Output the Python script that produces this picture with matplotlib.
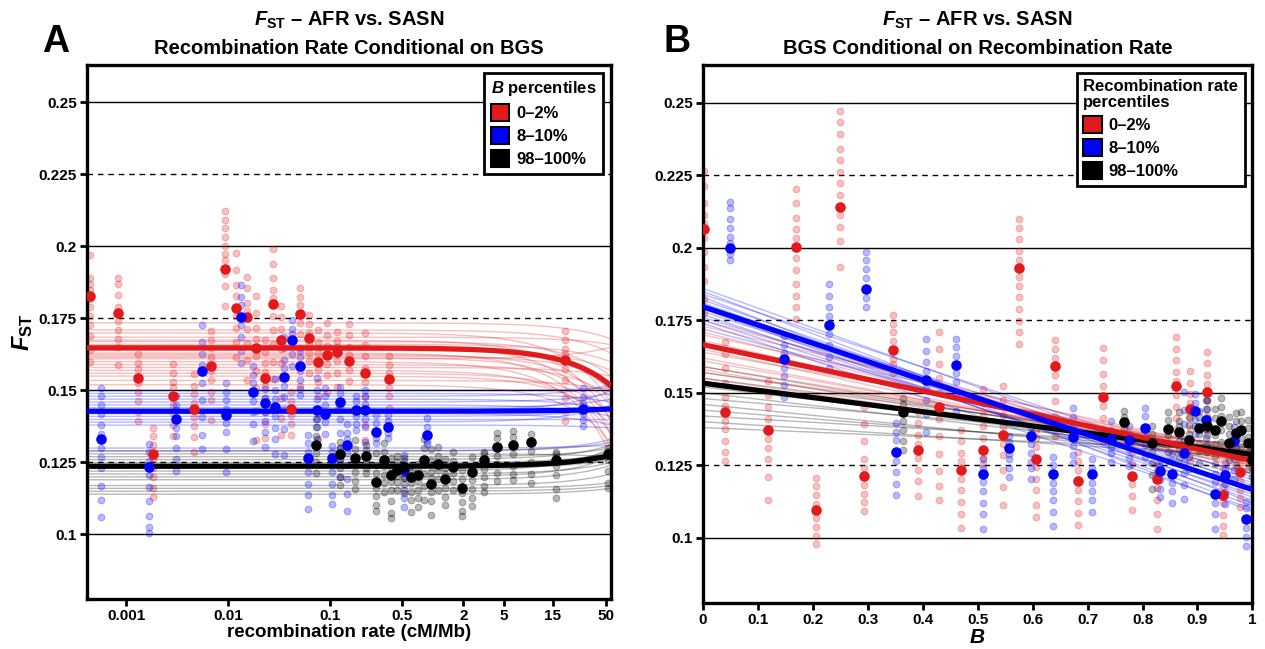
import numpy as np
import matplotlib
matplotlib.use('Agg')
import matplotlib.pyplot as plt
from matplotlib.patches import Patch

plt.rcParams['font.family'] = ['Liberation Sans', 'DejaVu Sans']
plt.rcParams['font.weight'] = 'bold'
plt.rcParams['axes.labelweight'] = 'bold'
plt.rcParams['mathtext.fontset'] = 'custom'
plt.rcParams['mathtext.rm'] = 'Liberation Sans:bold'
plt.rcParams['mathtext.it'] = 'Liberation Sans:bold:italic'
plt.rcParams['mathtext.bf'] = 'Liberation Sans:bold'

RED = '#E31A1C'
BLUE = '#0000FF'
BLACK = '#000000'

# ---------------- panel A: F_ST vs recombination rate, conditional on B ----------------
red_A_rate = [0.000446, 0.00083, 0.0013, 0.00185, 0.00289, 0.00461, 0.0068, 0.00937, 0.0120,
              0.0152, 0.0189, 0.0228, 0.0272, 0.0331, 0.0408, 0.0500, 0.0617, 0.0762, 0.0925,
              0.115, 0.153, 0.219, 0.378, 19.6]
red_A_fst = [0.1829, 0.1770, 0.1545, 0.1281, 0.1481, 0.1437, 0.1586, 0.1923, 0.1787, 0.1755,
             0.1648, 0.1545, 0.1800, 0.1675, 0.1434, 0.1766, 0.1681, 0.1600, 0.1623, 0.1632,
             0.1602, 0.1559, 0.1540, 0.1605]
# replicate spread around each mean, in units of 0.001
red_A_reps = [[14, 6, 4, 2, -1, -4, -7, -10, -14, -19, -23],
              [12, 10, 6, 2, -3, -6, -9, -12, -18],
              [8, 5, 3, -2, -5, -8, -12, -15],
              [9, 6, 3, -2, -5, -8, -12, -15],
              [11, 8, 5, 3, -3, -6, -10, -14],
              [12, 8, 5, 2, -3, -6, -10, -15],
              [12, 9, 6, 3, -2, -5, -9, -12, -19],
              [20, 17, 14, 11, 8, 5, 3, -2, -6, -13],
              [19, 13, 8, 4, -3, -7, -12, -17],
              [14, 10, 5, 2, -4, -9, -15, -22],
              [18, 12, 7, 3, -3, -8, -14, -22, -32],
              [13, 9, 5, 2, -3, -7, -12, -16, -21],
              [19, 14, 9, 5, 2, -4, -9, -14, -20, -26],
              [12, 8, 4, -3, -8, -13, -20, -27, -33],
              [6, 3, -2, -5, -9],
              [9, 6, 3, -3, -7, -12, -18, -25],
              [8, 5, 2, -2, -5, -8, -12],
              [11, 7, 3, -3, -7, -12, -18, -27],
              [11, 7, 3, -3, -7, -13],
              [7, 4, 2, -3, -7, -12, -20],
              [13, 9, 5, 2, -3, -7],
              [14, 10, 6, 2, -3, -8, -13, -18, -23],
              [8, 5, 2, -3, -6, -10, -16],
              [10, 7, 4, 2, -3, -7, -13, -18, -21]]

blue_A_rate = [0.000564, 0.00168, 0.00308, 0.00556, 0.00952, 0.0133, 0.0176, 0.0230, 0.0288,
               0.0355, 0.0425, 0.0508, 0.0603, 0.0733, 0.0877, 0.104, 0.123, 0.145, 0.177,
               0.219, 0.279, 0.367, 0.521, 0.891, 29.4]
blue_A_fst = [0.1330, 0.1235, 0.1401, 0.1567, 0.1416, 0.1756, 0.1495, 0.1455, 0.1441, 0.1547,
              0.1675, 0.1586, 0.1267, 0.1432, 0.1420, 0.1266, 0.1461, 0.1312, 0.1432, 0.1432,
              0.1356, 0.1374, 0.1225, 0.1344, 0.1437]
blue_A_reps = [[18, 15, 12, 9, 5, 2, -3, -6, -10, -16, -21, -27],
               [8, 5, 2, -3, -7, -12, -17, -21, -23],
               [8, 5, 3, -3, -6, -10, -14, -18],
               [16, 10, 6, 2, -4, -10, -16, -22, -27],
               [11, 8, 5, 2, -3, -6, -12, -20],
               [11, 7, 4, -3, -7, -12, -16],
               [9, 6, 3, -3, -7, -11, -17],
               [8, 5, 2, -3, -6, -10, -15],
               [10, 6, 3, -3, -7, -11, -16],
               [14, 10, 6, 3, -3, -7, -11, -18, -27],
               [7, 4, 2, -2, -5, -9],
               [5, 3, -2, -5, -8, -10],
               [8, 5, 2, -2, -5, -9, -13, -18],
               [11, 7, 4, -3, -6, -10],
               [9, 6, 3, -3, -7],
               [4, 2, -2, -5, -9, -13, -16],
               [5, 3, -2, -6, -11, -16, -21, -26],
               [7, 4, 2, -3, -7, -12, -17, -23],
               [5, 3, -2, -5, -7],
               [7, 5, 2, -3, -6, -11],
               [6, 3, -2, -4],
               [4, 2, -2, -4],
               [5, 3, -3, -7, -10, -13],
               [6, 3, -2, -3],
               [7, 4, 2, -2, -4, -6]]

black_A_rate = [0.0715, 0.123, 0.175, 0.223, 0.277, 0.334, 0.391, 0.450, 0.525, 0.614, 0.718,
                0.832, 0.964, 1.14, 1.33, 1.59, 1.93, 2.44, 3.20, 4.30, 6.06, 9.23, 16.2, 52.0]
black_A_fst = [0.1312, 0.1281, 0.1267, 0.1272, 0.1182, 0.1258, 0.1206, 0.1223, 0.1235, 0.1198,
               0.1206, 0.1260, 0.1177, 0.1243, 0.1191, 0.1235, 0.1163, 0.1218, 0.1258, 0.1304,
               0.1309, 0.1320, 0.1258, 0.1280]
black_A_reps = [[9, 6, 3, -3, -6, -10],
                [4, 2, -2, -5, -8, -11],
                [6, 3, -2, -5, -8, -11],
                [4, 2, -2, -4, -6],
                [10, 6, 3, -2, -5, -8, -10],
                [6, 3, -2, -5, -8, -11],
                [6, 3, -2, -5, -9, -13, -15],
                [5, 3, -2, -4, -7],
                [3, -2, -4, -6, -9],
                [4, 2, -2, -5, -8, -12],
                [4, 2, -2, -5, -8, -11],
                [7, 4, -2, -5, -9, -14],
                [12, 8, 4, 2, -3, -6, -11],
                [6, 3, -2, -5, -9],
                [7, 4, 2, -3, -6, -9],
                [5, 2, -2, -5, -8],
                [6, 3, -2, -5, -8, -10],
                [5, 2, -3, -6, -9, -12],
                [3, 2, -3, -6, -9, -11],
                [5, 3, -3, -6, -9, -12],
                [5, 3, -3, -7, -10, -12],
                [3, -3, -7, -11, -14],
                [3, 2, -2, -5, -10, -13],
                [2, -2, -6, -10, -12]]

# linear fits F = a + b * rate (value at rate 0 and at rate 55)
fit_A_main = {'red': (0.1648, 0.1517), 'blue': (0.1428, 0.1436), 'black': (0.1237, 0.1275)}
red_A_fit_int = [0.1735, 0.171, 0.170, 0.1685, 0.1675, 0.167, 0.166, 0.1655, 0.165, 0.164, 0.163,
                 0.1625, 0.162, 0.1615, 0.161, 0.160, 0.159, 0.158, 0.157, 0.156, 0.155, 0.1535, 0.152]
red_A_fit_end = [0.168, 0.163, 0.146, 0.166, 0.140, 0.155, 0.160, 0.135, 0.150, 0.157, 0.130,
                 0.145, 0.153, 0.140, 0.165, 0.128, 0.148, 0.155, 0.135, 0.142, 0.138, 0.150, 0.132]
blue_A_fit_int = [0.150, 0.149, 0.148, 0.147, 0.146, 0.145, 0.144, 0.143, 0.142, 0.141, 0.140,
                  0.139, 0.138, 0.130, 0.129]
blue_A_fit_end = [0.151, 0.146, 0.152, 0.143, 0.149, 0.141, 0.147, 0.150, 0.138, 0.144, 0.140,
                  0.145, 0.137, 0.131, 0.133]
black_A_fit_int = [0.129, 0.128, 0.127, 0.126, 0.125, 0.124, 0.123, 0.122, 0.121, 0.120, 0.119,
                   0.117, 0.116, 0.115, 0.114]
black_A_fit_end = [0.132, 0.127, 0.130, 0.131, 0.128, 0.129, 0.126, 0.130, 0.125, 0.127, 0.124,
                   0.121, 0.118, 0.117, 0.116]

# ---------------- panel B: F_ST vs B, conditional on recombination rate ----------------
red_B_x = [0.003, 0.041, 0.118, 0.170, 0.206, 0.250, 0.294, 0.346, 0.392, 0.430, 0.469, 0.510,
           0.547, 0.576, 0.606, 0.641, 0.682, 0.728, 0.780, 0.826, 0.860, 0.887, 0.917, 0.946, 0.978]
red_B_fst = [0.2064, 0.1434, 0.1371, 0.2004, 0.1097, 0.2142, 0.1212, 0.1648, 0.1304, 0.1450,
             0.1233, 0.1304, 0.1354, 0.1929, 0.1273, 0.1591, 0.1195, 0.1484, 0.1214, 0.1201,
             0.1522, 0.1444, 0.1501, 0.1149, 0.1226]
red_B_reps = [[20, 15, 9, 5, 2, -3, -8, -13, -18, -24, -29],
              [24, 20, 15, 10, 5, 2, -3, -6, -10, -14, -17],
              [17, 12, 8, 4, -3, -6, -10, -16, -24],
              [20, 15, 10, 6, 3, -4, -8, -13, -17, -21, -25],
              [11, 8, 5, 2, -3, -6, -9, -12],
              [33, 29, 25, 20, 16, 12, 8, 4, -3, -7, -12, -21],
              [24, 18, 12, 6, 3, -3, -6, -9, -12],
              [12, 9, 6, 3, -3, -5, -8],
              [13, 9, 5, 2, -3, -7, -11, -16],
              [26, 20, 15, 10, 5, -4, -10, -16, -22, -27, -32],
              [14, 10, 6, 3, -3, -7, -11, -15, -20],
              [21, 16, 12, 8, 4, -3, -5],
              [17, 12, 7, 3, -3, -7, -12, -18, -24],
              [17, 14, 10, 6, 3, -3, -6, -10, -14, -18, -22, -26],
              [10, 7, 4, -3, -7, -11, -16, -20],
              [9, 6, 3, -3, -7, -12, -17, -24],
              [10, 7, 4, -3, -7, -11, -15],
              [17, 13, 8, 4, -3, -7, -11, -15],
              [12, 8, 4, -3, -7, -12],
              [5, 3, -3, -7, -12, -17],
              [17, 13, 9, 5, 2, -3, -7, -11, -15],
              [13, 9, 5, 2, -3, -7, -12, -18],
              [14, 10, 6, 3, -3, -8, -13, -20],
              [9, 6, 3, -3, -7, -11, -14],
              [5, 3, -3, -6, -9, -12]]

blue_B_x = [0.050, 0.147, 0.230, 0.297, 0.352, 0.407, 0.460, 0.510, 0.557, 0.598, 0.637, 0.674,
            0.708, 0.743, 0.775, 0.804, 0.832, 0.854, 0.876, 0.896, 0.915, 0.931, 0.950, 0.966, 0.989]
blue_B_fst = [0.1998, 0.1616, 0.1734, 0.1857, 0.1296, 0.1545, 0.1597, 0.1221, 0.1310, 0.1352,
              0.1220, 0.1346, 0.1220, 0.1342, 0.1336, 0.1379, 0.1229, 0.1220, 0.1292, 0.1436,
              0.1405, 0.1151, 0.1216, 0.1333, 0.1063]
blue_B_reps = [[16, 14, 10, 7, 4, 2, -2, -4],
               [8, 5, 2, -3, -6, -9, -13],
               [14, 10, 6, 3, -3, -7, -11, -15],
               [13, 10, 7, 4, -3, -6],
               [10, 7, 4, -3, -7, -11, -15],
               [14, 10, 6, 3, -3, -7, -12, -18],
               [9, 6, 3, -3, -6, -10, -16],
               [5, 2, -3, -6, -10, -14, -19],
               [4, 2, -2, -4, -7, -10],
               [3, 1, -3, -6, -9, -11, -15],
               [6, 3, -3, -6, -9, -13, -18],
               [10, 7, 4, -3, -6, -9],
               [5, 2, -3, -6, -9, -13],
               [6, 3, -3, -5, -8],
               [5, 2, -3, -6, -9],
               [7, 4, -3, -6, -10],
               [4, 2, -3, -6, -9],
               [7, 4, -3, -6, -10],
               [21, 15, 10, 5, -3, -7, -11, -16],
               [6, 3, -3, -5, -8],
               [7, 4, -3, -6, -9],
               [7, 4, -3, -7, -12],
               [4, 2, -3, -6, -10],
               [5, 3, -3, -6, -10, -13],
               [6, 4, -3, -6, -9]]

black_B_x = [0.365, 0.766, 0.817, 0.847, 0.866, 0.884, 0.902, 0.918, 0.931, 0.943, 0.957, 0.970,
             0.979, 0.992, 0.999]
black_B_fst = [0.1432, 0.1398, 0.1327, 0.1375, 0.1364, 0.1338, 0.1378, 0.1384, 0.1373, 0.1401,
               0.1327, 0.1361, 0.1373, 0.1327, 0.1269]
black_B_reps = [[5, 3, -3, -6, -10, -13],
                [4, 2, -2, -4],
                [6, 3, -3, -7, -11, -16],
                [6, 3, -2, -5, -8, -11],
                [7, 4, 2, -3, -6, -9],
                [8, 5, 2, -3, -6, -10],
                [6, 4, -2, -5, -8, -12],
                [9, 6, 3, -3, -6, -9],
                [7, 4, -2, -5, -9, -12],
                [8, 5, 2, -3, -7, -10],
                [9, 6, 3, -3, -6],
                [7, 4, -2, -5, -8, -11],
                [6, 3, -3, -6, -9],
                [8, 5, 2, -3, -6, -9],
                [6, 3, -3, -6, -9]]

# linear fits F = a + b * B (value at B = 0 and at B = 1)
fit_B_main = {'red': (0.1666, 0.1266), 'blue': (0.1797, 0.1166), 'black': (0.1533, 0.1287)}
red_B_fit_int = [0.175, 0.173, 0.171, 0.170, 0.168, 0.167, 0.165, 0.164, 0.162, 0.161, 0.159,
                 0.158, 0.157, 0.155]
red_B_fit_end = [0.123, 0.127, 0.122, 0.129, 0.125, 0.128, 0.124, 0.130, 0.126, 0.127, 0.129,
                 0.125, 0.131, 0.128]
blue_B_fit_int = [0.186, 0.185, 0.184, 0.183, 0.182, 0.181, 0.180, 0.179, 0.178, 0.177, 0.176,
                  0.175, 0.174, 0.172]
blue_B_fit_end = [0.118, 0.112, 0.121, 0.109, 0.116, 0.114, 0.120, 0.111, 0.117, 0.113, 0.119,
                  0.115, 0.110, 0.122]
black_B_fit_int = [0.159, 0.157, 0.155, 0.154, 0.152, 0.150, 0.148, 0.146, 0.144, 0.142, 0.140,
                   0.138]
black_B_fit_end = [0.127, 0.129, 0.131, 0.126, 0.130, 0.128, 0.132, 0.127, 0.129, 0.131, 0.128,
                   0.130]

legend_labels = ['0\u20132%', '8\u201310%', '98\u2013100%']
y_ticks = [0.1, 0.125, 0.15, 0.175, 0.2, 0.225, 0.25]
y_tick_labels = ['0.1', '0.125', '0.15', '0.175', '0.2', '0.225', '0.25']
xA_ticks = [0.001, 0.01, 0.1, 0.5, 2, 5, 15, 50]
xA_tick_labels = ['0.001', '0.01', '0.1', '0.5', '2', '5', '15', '50']
xB_ticks = [0, 0.1, 0.2, 0.3, 0.4, 0.5, 0.6, 0.7, 0.8, 0.9, 1]
xB_tick_labels = ['0', '0.1', '0.2', '0.3', '0.4', '0.5', '0.6', '0.7', '0.8', '0.9', '1']

FST = r'$\mathit{F}_{\mathrm{ST}}$'
YLIM = (0.0775, 0.263)
XLIM_A = (0.000412, 55.7)


def style_axis(ax):
    for y in y_ticks:
        dashed = y in (0.125, 0.175, 0.225)
        ax.axhline(y, color='black', lw=1.0, ls=(0, (4, 3.5)) if dashed else '-', zorder=0)
    for s in ax.spines.values():
        s.set_linewidth(2.4)
    ax.tick_params(axis='both', direction='out', length=5, width=2, labelsize=11, pad=2)
    ax.set_yticks(y_ticks)
    ax.set_yticklabels(y_tick_labels)
    ax.set_ylim(*YLIM)


def draw_points(ax, xs, means, reps, color):
    for x, m, r in zip(xs, means, reps):
        vals = [m + d / 1000.0 for d in r]
        ax.scatter([x] * len(vals), vals, s=24, color=color, alpha=0.28, linewidths=0.7,
                   edgecolors=color, zorder=2)
    ax.scatter(xs, means, s=58, color=color, zorder=5, linewidths=0)


def draw_fits(ax, xgrid, xend, ints, ends, color, main, lw_thin=1.0):
    for a, e in zip(ints, ends):
        b = (e - a) / xend
        ax.plot(xgrid, a + b * xgrid, color=color, lw=lw_thin, alpha=0.28, zorder=3)
    a, e = main
    ax.plot(xgrid, a + (e - a) / xend * xgrid, color=color, lw=3.8, zorder=4,
            solid_capstyle='butt')


fig = plt.figure(figsize=(12.65, 6.49), dpi=100)
axA = fig.add_axes([0.0685, 0.0766, 0.4145, 0.8232])
axB = fig.add_axes([0.5555, 0.0709, 0.4346, 0.8289])

# ---- panel A ----
style_axis(axA)
axA.set_xscale('log')
axA.set_xlim(*XLIM_A)
ratesA = np.logspace(np.log10(XLIM_A[0]), np.log10(XLIM_A[1]), 400)
draw_fits(axA, ratesA, 55.0, red_A_fit_int, red_A_fit_end, RED, fit_A_main['red'])
draw_fits(axA, ratesA, 55.0, blue_A_fit_int, blue_A_fit_end, BLUE, fit_A_main['blue'])
draw_fits(axA, ratesA, 55.0, black_A_fit_int, black_A_fit_end, BLACK, fit_A_main['black'])
draw_points(axA, red_A_rate, red_A_fst, red_A_reps, RED)
draw_points(axA, blue_A_rate, blue_A_fst, blue_A_reps, BLUE)
draw_points(axA, black_A_rate, black_A_fst, black_A_reps, BLACK)
axA.set_xticks(xA_ticks)
axA.set_xticklabels(xA_tick_labels)
axA.minorticks_off()
axA.set_xlabel('recombination rate (cM/Mb)', fontsize=13.5, fontweight='bold', labelpad=1)
axA.set_ylabel(FST, fontsize=17)
axA.yaxis.set_label_coords(-0.098, 0.5)
axA.set_title(FST + ' \u2013 AFR vs. SASN\nRecombination Rate Conditional on BGS',
              fontsize=14.5, fontweight='bold', pad=8, linespacing=1.5)

# ---- panel B ----
style_axis(axB)
axB.set_xlim(0, 1)
bgrid = np.linspace(0, 1, 200)
draw_fits(axB, bgrid, 1.0, black_B_fit_int, black_B_fit_end, BLACK, fit_B_main['black'])
draw_fits(axB, bgrid, 1.0, red_B_fit_int, red_B_fit_end, RED, fit_B_main['red'])
draw_fits(axB, bgrid, 1.0, blue_B_fit_int, blue_B_fit_end, BLUE, fit_B_main['blue'])
draw_points(axB, red_B_x, red_B_fst, red_B_reps, RED)
draw_points(axB, blue_B_x, blue_B_fst, blue_B_reps, BLUE)
draw_points(axB, black_B_x, black_B_fst, black_B_reps, BLACK)
axB.set_xticks(xB_ticks)
axB.set_xticklabels(xB_tick_labels)
axB.set_xlabel(r'$\mathit{B}$', fontsize=15, labelpad=1)
axB.set_title(FST + ' \u2013 AFR vs. SASN\nBGS Conditional on Recombination Rate',
              fontsize=14.5, fontweight='bold', pad=8, linespacing=1.5)

# ---- legends ----
handles = [Patch(facecolor=c, edgecolor='black', lw=1.5) for c in (RED, BLUE, BLACK)]
for ax, title in ((axA, r'$\mathit{B}$ percentiles'), (axB, 'Recombination rate\npercentiles')):
    leg = ax.legend(handles, legend_labels, title=title, loc='upper right',
                    fontsize=12, title_fontsize=12, frameon=True, fancybox=False,
                    framealpha=1, handlelength=1.1, handleheight=1.2, handletextpad=0.4,
                    labelspacing=0.35, borderpad=0.4, borderaxespad=0.45, alignment='left')
    leg.get_frame().set_edgecolor('black')
    leg.get_frame().set_linewidth(2)
    leg.set_zorder(10)
    leg.get_title().set_fontweight('bold')
    leg.get_title().set_linespacing(1.1)
    for t in leg.get_texts():
        t.set_fontweight('bold')

fig.text(0.044, 0.935, 'A', fontsize=27, fontweight='bold', ha='center', va='center')
fig.text(0.535, 0.935, 'B', fontsize=27, fontweight='bold', ha='center', va='center')

fig.savefig('out.png', dpi=100)
